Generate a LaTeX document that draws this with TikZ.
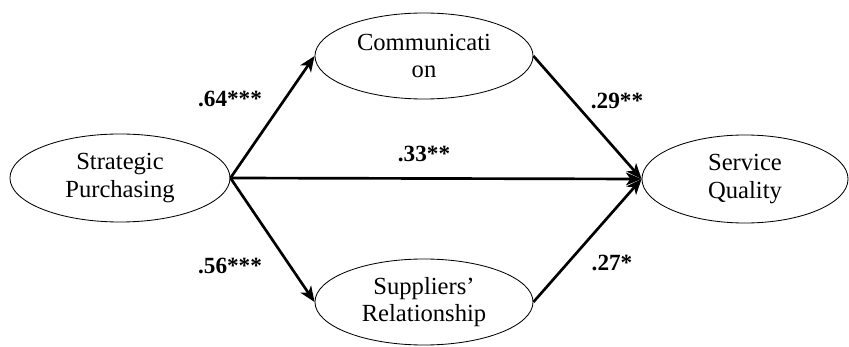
\documentclass[tikz,border=0pt]{standalone}
\usepackage{fontspec}
\setmainfont{Liberation Serif}
\usetikzlibrary{shapes.geometric, arrows.meta}

\begin{document}
\begin{tikzpicture} [x = 0.025cm, y = -0.025cm,
  construct/.style = {draw, ellipse, line width = 0.6pt, inner sep = 0pt, align = center,
    font = \fontsize{17.5}{19.5}\selectfont},
  path/.style = {line width = 1.9pt, -{Stealth[length = 11pt, width = 9pt, inset = 3pt]}},
  coef/.style = {font = \fontsize{16.5}{19}\selectfont\bfseries}]
\useasboundingbox (0, 0) rectangle (849, 347);
\node[construct, minimum width = 5.5cm, minimum height = 2.2cm] (purch) at (120, 178) {Strategic\\Purchasing};
\node[construct, minimum width = 5.45cm, minimum height = 2.15cm] (comm) at (424, 56) {Communicati\\on};
\node[construct, minimum width = 5.45cm, minimum height = 2.15cm] (supp) at (424, 302) {Suppliers'\\Relationship};
\node[construct, minimum width = 5.15cm, minimum height = 2.2cm] (qual) at (745, 179) {Service\\Quality};
\draw[path] (purch.east) -- (comm.west);
\draw[path] (purch.east) -- (supp.west);
\draw[path] (purch.east) -- (qual.west);
\draw[path] (comm.east) -- (qual.west);
\draw[path] (supp.east) -- (qual.west);
\node[coef] (c64) at (230, 99) {.64***};
\node[coef] (c33) at (424, 154) {.33**};
\node[coef] (c29) at (617, 101) {.29**};
\node[coef] (c56) at (230, 266) {.56***};
\node[coef] (c27) at (612, 263) {.27*};
\end{tikzpicture}
\end{document}
